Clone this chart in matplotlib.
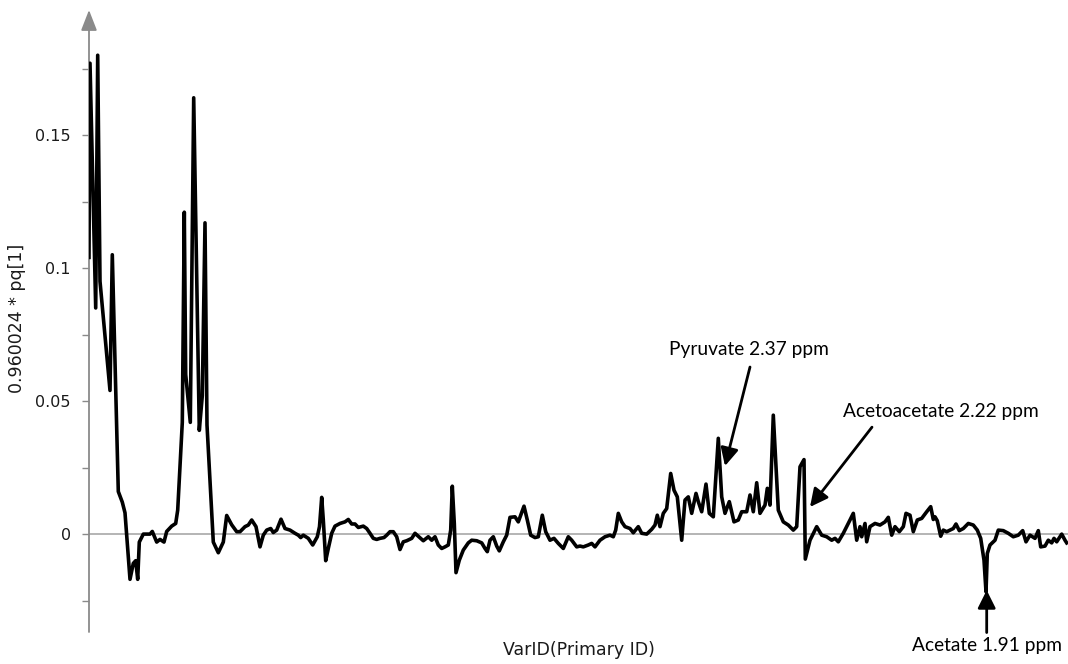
import matplotlib
matplotlib.use("Agg")
import matplotlib.pyplot as plt
from matplotlib.ticker import FixedLocator

# ---- data -------------------------------------------------------------
var_id = [0, 1, 6.7, 8.7, 11, 21, 23.3, 27.7, 29.3, 33.3, 36, 41, 44.3, 46.7, 48.7, 50.3,
          54.3, 61, 63.3, 67.7, 71, 75, 77.7, 82.7, 86.7, 88.7, 93.3, 95.3, 96.7, 101.3,
          104.7, 110.3, 113.3, 116, 118, 122, 124.3, 129.3, 134.3, 137.7, 142.7, 147.7,
          151, 156, 159.3, 162.7, 167, 171, 174.3, 177.7, 181.7, 184.3, 187.7, 192, 196,
          201, 206, 209.3, 211.7, 214.3, 219.3, 223.7, 228.3, 230.5, 232.7, 234.3, 236.7,
          239.3, 242.7, 246, 251, 256, 259.3, 262.7, 266, 269.3, 274.3, 277.7, 281, 284.3,
          287.7, 291, 295, 297.7, 301, 304.3, 307.7, 311, 314.3, 317.7, 322.7, 326, 329.3,
          334.3, 339.3, 342.7, 346, 349.3, 352.7, 356, 359.3, 361.7, 363.3, 365.3, 367,
          370.3, 374.3, 379.3, 382.7, 387.7, 392.7, 396, 398.3, 401, 404.3, 407.7, 410.3,
          414.3, 417.7, 421, 426, 429.3, 435, 438.3, 441.7, 446, 449.3, 453.3, 456.7, 461,
          465, 469.3, 474.3, 479.3, 482.7, 487.7, 491, 494.3, 499.3, 502.7, 506, 511, 516,
          521, 524.3, 526.7, 529.3, 532.7, 536, 541, 544.3, 549.3, 552.7, 557.7, 562.7,
          566, 568.3, 571, 574.3, 577.7, 581.7, 585, 588.3, 592.7, 596, 599.3, 602.7, 607,
          609.3, 612.7, 617, 620.3, 624.3, 629.3, 632.7, 636, 640.3, 645, 649.3, 652.7,
          657.7, 661, 664.3, 667.7, 671, 676, 678.3, 681, 684.3, 687.7, 689.3, 694.3,
          699.3, 704.3, 707.7, 711, 715, 716.3, 721, 727.7, 732.7, 737.7, 742.7, 746,
          749.3, 754.3, 757.7, 761, 764.3, 767.7, 771, 772.7, 776, 777.7, 781, 786, 791,
          796, 799.3, 802.7, 806, 810.3, 814.3, 817, 821, 824.3, 828.3, 832.7, 837.7,
          841.7, 844.3, 846, 848.3, 851.7, 854.3, 857.7, 861, 864.3, 867, 870.3, 874.3,
          879.3, 884.3, 888.3, 891.7, 895, 897, 898.3, 901, 906, 909.3, 914.3, 919.3,
          924.3, 929.3, 933.7, 937, 941, 946, 949.3, 951.7, 956, 959.3, 962.7, 965, 967.7,
          972.7, 976, 977.7]

loading = [0.104, 0.177, 0.085, 0.180, 0.095, 0.054, 0.105, 0.040, 0.016, 0.012, 0.008,
           -0.017, -0.011, -0.010, -0.017, -0.003, 0.000, 0.000, 0.001, -0.003, -0.002,
           -0.003, 0.001, 0.003, 0.004, 0.009, 0.042, 0.121, 0.060, 0.042, 0.164, 0.039,
           0.052, 0.117, 0.041, 0.013, -0.003, -0.007, -0.003, 0.007, 0.0035, 0.0009,
           0.0009, 0.0028, 0.0034, 0.0053, 0.0028, -0.0048, -0.0004, 0.0015, 0.0021,
           0.0006, 0.0015, 0.0056, 0.0021, 0.0015, 0.0003, -0.0004, -0.0013, -0.0004,
           -0.0016, -0.0041, -0.0010, 0.0028, 0.0138, 0.0053, -0.0100, -0.0054, 0.0003,
           0.0030, 0.0040, 0.0046, 0.0055, 0.0038, 0.0038, 0.0025, 0.0030, 0.0021, 0.0003,
           -0.0016, -0.0020, -0.0016, -0.0013, -0.0004, 0.0009, 0.0009, -0.0010, -0.0058,
           -0.0029, -0.0025, -0.0016, 0.0003, -0.0008, -0.0025, -0.0010, -0.0023, -0.0010,
           -0.0041, -0.0054, -0.0048, -0.0041, 0.0015, 0.0180, 0.0040, -0.0145, -0.0098,
           -0.0060, -0.0033, -0.0023, -0.0025, -0.0033, -0.0054, -0.0066, -0.0023, -0.0010,
           -0.0045, -0.0063, -0.0029, -0.0004, 0.0063, 0.0065, 0.0046, 0.0105, 0.0053,
           -0.0004, -0.0013, -0.0010, 0.0071, 0.0009, -0.0023, -0.0016, -0.0035, -0.0054,
           -0.0010, -0.0023, -0.0048, -0.0045, -0.0048, -0.0041, -0.0035, -0.0048, -0.0023,
           -0.0010, -0.0004, -0.0010, 0.0015, 0.0078, 0.0046, 0.0028, 0.0021, 0.0005,
           0.0028, 0.0003, 0.0000, 0.0018, 0.0034, 0.0071, 0.0028, 0.0078, 0.0096, 0.0228,
           0.0165, 0.0140, -0.0023, 0.0128, 0.0140, 0.0078, 0.0153, 0.0122, 0.0084, 0.0188,
           0.0078, 0.0065, 0.0360, 0.0140, 0.0078, 0.0122, 0.0046, 0.0053, 0.0084, 0.0084,
           0.0147, 0.0084, 0.0193, 0.0078, 0.0109, 0.0172, 0.0109, 0.0447, 0.0203, 0.0090,
           0.0046, 0.0034, 0.0015, 0.0028, 0.0253, 0.0280, -0.0094, -0.0023, 0.0028,
           -0.0004, -0.0010, -0.0023, -0.0016, -0.0029, 0.0003, 0.0028, 0.0053, 0.0078,
           -0.0023, 0.0028, -0.0010, 0.0040, -0.0029, 0.0028, 0.0040, 0.0034, 0.0046,
           0.0063, -0.0004, 0.0028, 0.0009, 0.0028, 0.0078, 0.0071, 0.0009, 0.0053, 0.0059,
           0.0084, 0.0103, 0.0055, 0.0065, 0.0050, -0.0008, 0.0015, 0.0009, 0.0015, 0.0021,
           0.0038, 0.0013, 0.0021, 0.0040, 0.0034, 0.0015, -0.0016, -0.0098, -0.0217,
           -0.0073, -0.0041, -0.0023, 0.0015, 0.0013, 0.0003, -0.0010, -0.0004, 0.0013,
           -0.0029, -0.0004, -0.0016, 0.0013, -0.0048, -0.0045, -0.0023, -0.0033, -0.0016,
           -0.0029, 0.0000, -0.0023, -0.0033]

major_ticks = [0, 0.05, 0.1, 0.15]
major_labels = ["0", "0.05", "0.1", "0.15"]
minor_ticks = [-0.025, 0.025, 0.075, 0.125, 0.175]

y_label = "0.960024 * pq[1]"
x_label = "VarID(Primary ID)"

annotations = [
    # text, text position, arrow start, arrow tip
    ("Pyruvate 2.37 ppm", (660, 0.0695), (661, 0.0628), (636, 0.0256)),
    ("Acetoacetate 2.22 ppm", (852, 0.0459), (783, 0.0402), (721, 0.0102)),
    ("Acetate 1.91 ppm", (897.5, -0.0420), (897.7, -0.0370), (897.7, -0.0211)),
]

# ---- figure -----------------------------------------------------------
W, H = 1068, 664
fig = plt.figure(figsize=(W / 100, H / 100), dpi=100)
ax = fig.add_axes([89 / W, (H - 632) / H, 979 / W, 622 / H])
ax.set_xlim(0, 979)
ax.set_ylim(-0.0368, 0.197)

axis_grey = "#8a8a8a"
text_col = "#1a1a1a"
for s in ax.spines.values():
    s.set_visible(False)

# zero line
ax.axhline(0, color="#a8a8a8", lw=1.2, zorder=1)

# vertical axis with arrow head
ax.annotate("", xy=(0, 1), xytext=(0, 0), xycoords="axes fraction",
            textcoords="axes fraction",
            arrowprops=dict(arrowstyle="-|>,head_length=0.9,head_width=0.35",
                            color=axis_grey, lw=1.3, shrinkA=0, shrinkB=0,
                            mutation_scale=14),
            annotation_clip=False, zorder=2)

ax.plot(var_id, loading, color="black", lw=2.6, zorder=3)

ax.yaxis.set_major_locator(FixedLocator(major_ticks))
ax.set_yticklabels(major_labels)
ax.yaxis.set_minor_locator(FixedLocator(minor_ticks))
ax.tick_params(axis="y", which="both", direction="out", length=5, width=1,
               color=axis_grey, pad=8, labelsize=11.5, labelcolor=text_col)
ax.set_xticks([])

fig.text(17 / W, 1 - 318 / H, y_label, rotation=90, ha="center", va="center",
         fontsize=12.5, color=text_col)
fig.text(579 / W, 1 - 650 / H, x_label, ha="center", va="center",
         fontsize=12.5, color=text_col)

for text, tpos, astart, atip in annotations:
    ax.annotate("", xy=atip, xytext=astart,
                arrowprops=dict(arrowstyle="-|>,head_length=0.6,head_width=0.3",
                                color="black", lw=2, shrinkA=0, shrinkB=0,
                                mutation_scale=18),
                annotation_clip=False, zorder=4)
    ax.text(tpos[0], tpos[1], text, ha="center", va="center", fontsize=13.8,
            family="Lato", color="black", clip_on=False)

fig.savefig("out.png", dpi=100)
